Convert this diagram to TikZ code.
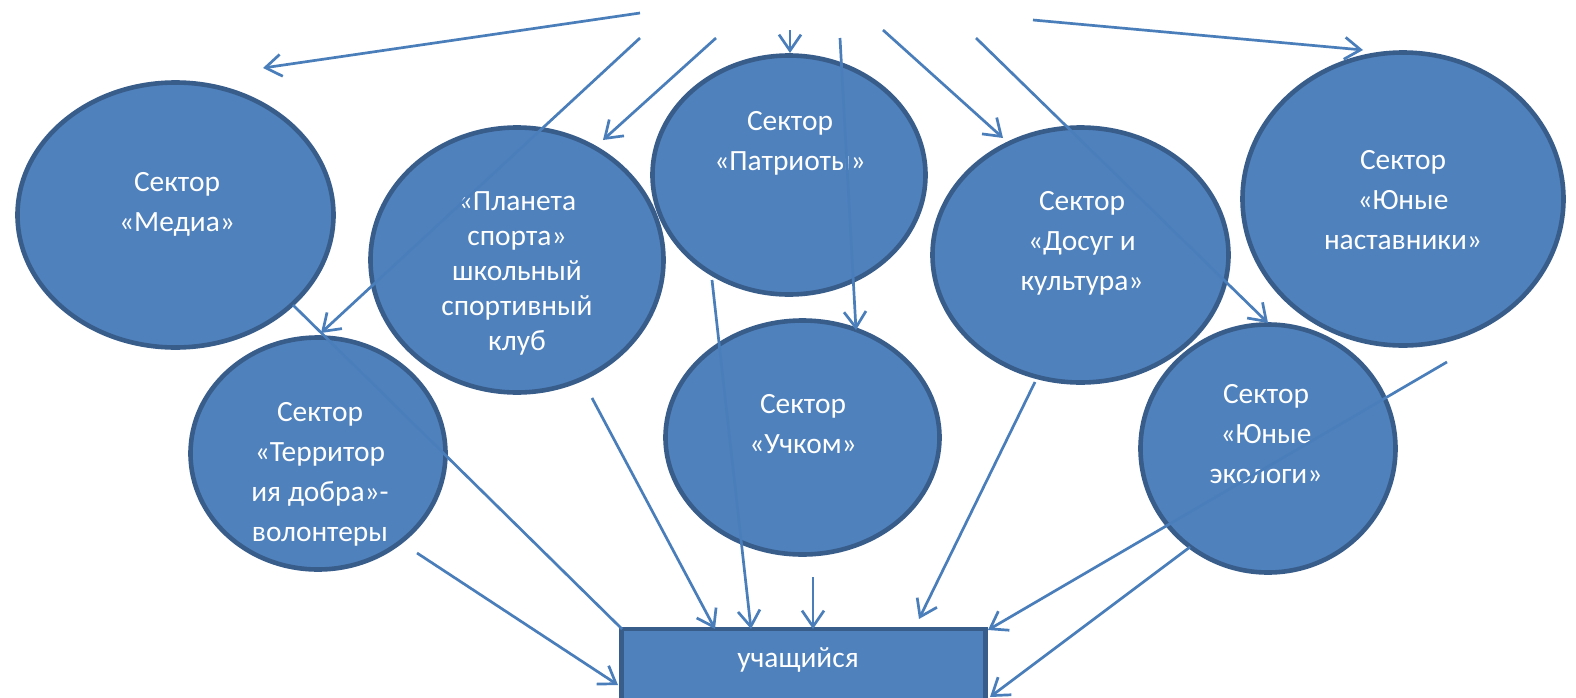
\documentclass[tikz,border=0pt]{standalone}
\usepackage{fontspec}
\setmainfont{Carlito}
\usetikzlibrary{shapes.geometric,arrows.meta}
\definecolor{fillb}{HTML}{4F81BD}
\definecolor{edgeb}{HTML}{385D8A}
\definecolor{lineb}{HTML}{4A7EBB}
\begin{document}
\begin{tikzpicture}[x=0.5pt,y=-0.5pt,
  sect/.style={ellipse,draw=edgeb,fill=fillb,line width=2.3pt,inner sep=0pt},
  boxst/.style={rectangle,draw=edgeb,fill=fillb,line width=2.4pt,inner sep=0pt},
  lbl/.style={text=white,align=center,inner sep=0pt,font=\fontsize{14.7}{20}\selectfont},
  lblp/.style={lbl,font=\fontsize{14.7}{17.5}\selectfont},
  conn/.style={draw=lineb,line width=1.35pt,-{Straight Barb[length=8pt,width=11pt,line width=1.35pt]}},
  plain/.style={draw=lineb,line width=1.35pt}]
\clip (0,0) rectangle (1576,697);
\fill[white] (0,0) rectangle (1576,697);
% ellipses
\node[sect,minimum width=158pt,minimum height=132.5pt] (media) at (175.5,215) {};
\node[sect,minimum width=146.5pt,minimum height=132.5pt] (planeta) at (517,260) {};
\node[sect,minimum width=136.5pt,minimum height=119.5pt] (patriot) at (789,175) {};
\node[sect,minimum width=148pt,minimum height=127.5pt] (dosug) at (1080.5,255) {};
\node[sect,minimum width=160.5pt,minimum height=146.5pt] (mentor) at (1403,199) {};
\node[sect,minimum width=127.5pt,minimum height=116pt] (terr) at (318,453.5) {};
\node[sect,minimum width=137pt,minimum height=117pt] (uchkom) at (802.5,437.5) {};
\node[sect,minimum width=127.5pt,minimum height=124pt] (eco) at (1268,448.5) {};
\node[boxst,minimum width=182pt,minimum height=46pt] (student) at (803.5,675) {};
% labels
\node[lbl] (mediaT) at (177,204) {Сектор\\«Медиа»};
\node[lblp] (planetaT) at (517,273) {«Планета\\спорта»\\школьный\\спортивный\\клуб};
\node[lbl] (patriotT) at (790,143) {Сектор\\«Патриоты»};
\node[lbl] (dosugT) at (1082,243) {Сектор\\«Досуг и\\культура»};
\node[lbl] (mentorT) at (1403,200) {Сектор\\«Юные\\наставники»};
\node[lbl] (terrT) at (320,474) {Сектор\\«Территор\\ия добра»-\\волонтеры};
\node[lbl] (uchkomT) at (803,424) {Сектор\\«Учком»};
\node[lbl] (ecoT) at (1266,434) {Сектор\\«Юные\\экологи»};
\node[lbl] (studentT) at (798,660) {учащийся};
% connector end points
\coordinate (s1) at (640,13);   \coordinate (t1) at (263,68);
\coordinate (s2) at (1033,20);  \coordinate (t2) at (1363,50);
\coordinate (s3) at (640,38);   \coordinate (t3) at (321,333);
\coordinate (s4) at (716,38);   \coordinate (t4) at (603,140);
\coordinate (s5) at (790,30);   \coordinate (t5) at (790,53);
\coordinate (s6) at (840,38);   \coordinate (t6) at (856,330);
\coordinate (s7) at (883,30);   \coordinate (t7) at (1003,138);
\coordinate (s8) at (976,38);   \coordinate (t8) at (1268,323);
\coordinate (m1) at (293,305);  \coordinate (r1) at (622,629);
\coordinate (m2) at (417,553);  \coordinate (r2) at (618,685);
\coordinate (m3) at (592,398);  \coordinate (r3) at (715,629);
\coordinate (m4) at (712,280);  \coordinate (r4) at (751,629);
\coordinate (m5) at (813,577);  \coordinate (r5) at (813,629);
\coordinate (m6) at (1035,382); \coordinate (r6) at (919,619);
\coordinate (m7) at (1447,362); \coordinate (r7) at (988,630);
\coordinate (m8) at (1190,547); \coordinate (r8) at (990,697);
% connectors
\draw[conn] (s1) -- (t1);
\draw[conn] (s2) -- (t2);
\draw[conn] (s3) -- (t3);
\draw[conn] (s4) -- (t4);
\draw[conn] (s5) -- (t5);
\draw[conn] (s6) -- (t6);
\draw[conn] (s7) -- (t7);
\draw[conn] (s8) -- (t8);
\draw[plain] (m1) -- (r1);
\draw[conn] (m2) -- (r2);
\draw[conn] (m3) -- (r3);
\draw[conn] (m4) -- (r4);
\draw[conn] (m5) -- (r5);
\draw[conn] (m6) -- (r6);
\draw[conn] (m7) -- (r7);
\draw[conn] (m8) -- (r8);
\end{tikzpicture}
\end{document}
